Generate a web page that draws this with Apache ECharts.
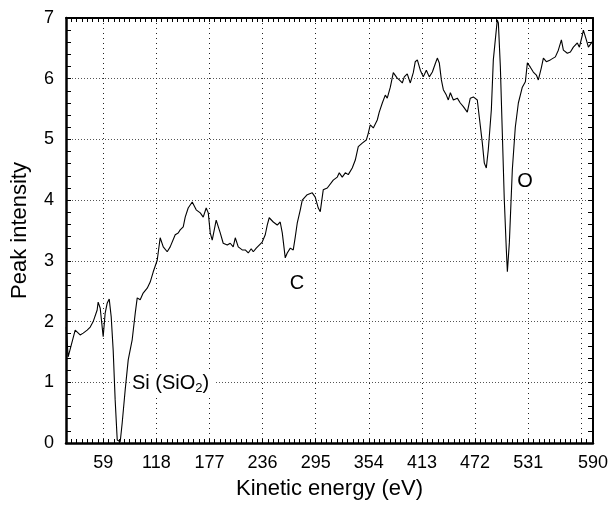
<!DOCTYPE html>
<html>
<head>
<meta charset="utf-8">
<title>Peak intensity vs kinetic energy</title>
<script src="https://cdn.jsdelivr.net/npm/echarts@6/dist/echarts.min.js"></script>
<style>
  html, body { margin: 0; padding: 0; background: #fff; }
  #chart { width: 613px; height: 507px; }
</style>
</head>
<body>
<div id="chart"></div>
<script>
// Spectrum: kinetic energy (eV) and peak intensity
const energy = [
  17.9, 20.1, 27.9, 33.4, 36.8, 41.2, 44.6, 47.9, 52.3, 53.4, 55.7, 59.0, 61.2, 63.4, 65.7, 67.9,
  70.1, 72.3, 74.6, 77.9, 80.1, 83.4, 86.8, 91.2, 94.6, 96.8, 100.1, 103.4, 107.9, 111.2, 114.6, 119.0,
  122.3, 125.7, 130.1, 133.4, 139.0, 142.3, 144.5, 147.9, 150.1, 153.4, 157.9, 159.0, 162.3, 166.8, 170.1, 173.4,
  175.7, 177.9, 180.1, 184.5, 189.0, 192.3, 196.8, 200.1, 203.4, 205.7, 209.0, 213.4, 216.8, 220.1, 223.4, 225.7,
  229.0, 231.2, 235.6, 239.0, 241.2, 243.4, 247.9, 252.3, 255.6, 257.9, 261.2, 263.4, 266.8, 270.1, 272.3, 274.5,
  277.9, 280.1, 285.6, 291.2, 294.5, 297.9, 300.1, 303.4, 307.9, 310.1, 314.5, 319.0, 321.2, 324.5, 327.9, 331.2,
  335.6, 339.0, 342.3, 346.7, 351.2, 353.4, 355.6, 359.0, 361.2, 363.4, 365.6, 369.0, 372.3, 374.5, 377.9, 381.2,
  385.6, 387.9, 391.2, 393.4, 396.7, 400.1, 403.4, 405.6, 407.9, 411.2, 414.5, 417.9, 421.2, 424.6, 427.9, 430.1,
  432.3, 434.6, 436.8, 440.1, 442.3, 444.6, 447.9, 452.3, 455.6, 459.0, 463.4, 466.7, 470.1, 474.5, 476.7, 480.1,
  482.3, 484.5, 486.7, 490.1, 492.3, 496.7, 497.9, 500.1, 502.3, 504.5, 506.7, 507.9, 510.1, 513.4, 516.7, 520.1,
  524.5, 527.9, 530.1, 533.4, 536.7, 540.1, 542.3, 545.6, 547.9, 551.2, 555.6, 561.2, 564.5, 567.9, 570.1, 574.5,
  577.9, 581.2, 585.6, 587.9, 591.2, 592.3, 595.6, 597.9, 602.3
];
const intensity = [
  1.91, 1.42, 1.86, 1.78, 1.81, 1.86, 1.91, 2.00, 2.19, 2.32, 2.22, 1.75, 2.14, 2.30, 2.37, 2.08,
  1.53, 0.71, 0.05, 0.02, 0.33, 0.87, 1.37, 1.70, 2.14, 2.39, 2.36, 2.47, 2.55, 2.65, 2.82, 3.01,
  3.38, 3.23, 3.15, 3.23, 3.43, 3.46, 3.51, 3.56, 3.72, 3.87, 3.97, 3.95, 3.84, 3.79, 3.72, 3.87,
  3.79, 3.46, 3.34, 3.67, 3.46, 3.29, 3.26, 3.29, 3.23, 3.38, 3.23, 3.18, 3.18, 3.13, 3.20, 3.15,
  3.21, 3.18, 3.31, 3.43, 3.59, 3.71, 3.64, 3.59, 3.64, 3.46, 3.05, 3.13, 3.21, 3.18, 3.39, 3.62,
  3.84, 4.00, 4.09, 4.12, 4.05, 3.87, 3.81, 4.17, 4.20, 4.17, 4.33, 4.38, 4.45, 4.38, 4.45, 4.42,
  4.53, 4.66, 4.88, 4.94, 4.99, 5.10, 5.24, 5.19, 5.21, 5.32, 5.45, 5.60, 5.73, 5.68, 5.86, 6.10,
  6.01, 5.98, 5.93, 6.03, 6.08, 5.93, 6.10, 6.28, 6.31, 6.14, 6.03, 6.14, 6.03, 6.11, 6.25, 6.34,
  6.26, 5.98, 5.82, 5.73, 5.65, 5.77, 5.65, 5.68, 5.60, 5.54, 5.45, 5.68, 5.70, 5.65, 5.37, 4.94,
  4.61, 4.53, 4.83, 5.49, 6.31, 6.97, 6.92, 6.20, 5.10, 4.00, 3.20, 2.82, 3.30, 4.50, 5.20, 5.60,
  5.86, 5.95, 6.26, 6.19, 6.11, 6.06, 5.98, 6.18, 6.34, 6.28, 6.31, 6.36, 6.47, 6.64, 6.47, 6.42,
  6.44, 6.52, 6.59, 6.52, 6.72, 6.80, 6.64, 6.52, 6.61
];

// Axis ticks and labels
const xTickValues = [59, 118, 177, 236, 295, 354, 413, 472, 531, 590];
const xTickLabels = ['59', '118', '177', '236', '295', '354', '413', '472', '531', '590'];
const yTickValues = [0, 1, 2, 3, 4, 5, 6, 7];

// Peak annotations
const peakNames = ['Si (SiO{sub|2})', 'C', 'O'];

const X_MIN = 17.7;   // 3 x the minor step, so minor ticks line up with 59
const X_MAX = 603;
const X_MINOR = 5.9;
const FONT = '"Liberation Sans", Arial, Helvetica, sans-serif';

// The last label is drawn at the right end of the axis
const xLabelAt = xTickValues.map((v, i) => (i === xTickValues.length - 1 ? X_MAX : v));

const chart = echarts.init(document.getElementById('chart'), null, { renderer: 'canvas' });

const frameAxis = (pos, width) => ({
  type: 'value',
  position: pos,
  min: X_MIN,
  max: X_MAX,
  interval: X_MINOR,
  axisLine: { show: true, onZero: false, lineStyle: { color: '#000', width: width } },
  axisTick: { show: true, inside: true, length: 4, lineStyle: { color: '#000', width: 1 } },
  axisLabel: { show: false },
  splitLine: { show: false }
});

const yFrame = (pos, width, withLabels) => ({
  type: 'value',
  position: pos,
  min: 0,
  max: 7,
  interval: 1,
  axisLine: { show: true, onZero: false, lineStyle: { color: '#000', width: width } },
  axisTick: { show: true, inside: true, length: 5, lineStyle: { color: '#000', width: 1 } },
  minorTick: { show: true, splitNumber: 5, length: 5, lineStyle: { color: '#000', width: 1 } },
  axisLabel: withLabels ? {
    show: true, fontSize: 18, color: '#000', fontFamily: FONT, margin: 12,
    customValues: yTickValues
  } : { show: false },
  splitLine: withLabels ? {
    show: true, lineStyle: { type: [1, 2], color: '#555', width: 1 }
  } : { show: false },
  name: withLabels ? 'Peak intensity' : '',
  nameLocation: 'middle',
  nameGap: 35,
  nameTextStyle: { fontSize: 22, color: '#000', fontFamily: FONT }
});

const option = {
  animation: false,
  backgroundColor: '#fff',
  grid: { left: 66, right: 20, top: 18, bottom: 64 },
  xAxis: [
    frameAxis('bottom', 2.5),
    {
      type: 'value',
      position: 'bottom',
      min: X_MIN,
      max: X_MAX,
      axisLine: { show: false, onZero: false },
      axisTick: { show: false, customValues: xTickValues },
      axisLabel: {
        show: true,
        customValues: xLabelAt,
        fontSize: 18,
        color: '#000',
        fontFamily: FONT,
        margin: 11,
        formatter: (v) => {
          const i = xLabelAt.findIndex((p) => Math.abs(p - v) < 0.5);
          return i >= 0 ? xTickLabels[i] : '';
        }
      },
      splitLine: { show: true, lineStyle: { type: [1, 4], color: '#222', width: 1 } },
      name: 'Kinetic energy (eV)',
      nameLocation: 'middle',
      nameGap: 35,
      nameTextStyle: { fontSize: 22, color: '#000', fontFamily: FONT }
    },
    frameAxis('top', 2)
  ],
  yAxis: [yFrame('left', 2.5, true), yFrame('right', 2, false)],
  series: [{
    type: 'line',
    xAxisIndex: 0,
    yAxisIndex: 0,
    data: energy.map((e, i) => [e, intensity[i]]),
    showSymbol: false,
    symbol: 'none',
    lineStyle: { color: '#000', width: 1.1 },
    clip: true
  }],
  graphic: [
    {
      type: 'text', x: 131, y: 383, z: 10,
      style: {
        text: peakNames[0], fill: '#000', fontSize: 20, fontFamily: FONT,
        align: 'left', verticalAlign: 'middle', lineHeight: 24,
        backgroundColor: '#fff', padding: [0, 6, 0, 1],
        rich: { sub: { fontSize: 13, fontFamily: FONT, verticalAlign: 'bottom', lineHeight: 13, fill: '#000' } }
      }
    },
    {
      type: 'text', x: 297, y: 283, z: 10,
      style: {
        text: peakNames[1], fill: '#000', fontSize: 20, fontFamily: FONT,
        align: 'center', verticalAlign: 'middle'
      }
    },
    {
      type: 'text', x: 525, y: 181, z: 10,
      style: {
        text: peakNames[2], fill: '#000', fontSize: 20, fontFamily: FONT,
        align: 'center', verticalAlign: 'middle',
        backgroundColor: '#fff', padding: [1, 2, 1, 2]
      }
    }
  ]
};

chart.setOption(option);
</script>
</body>
</html>
